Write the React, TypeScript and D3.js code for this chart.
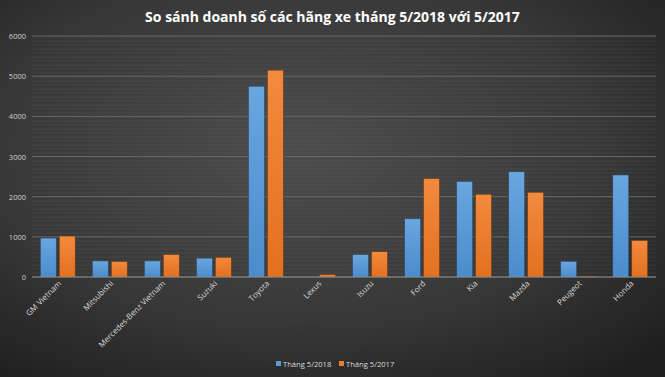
import React from "react";
import * as d3 from "d3";

const categories = ["GM Vietnam", "Mitsubishi", "Mercedes-Benz Vietnam", "Suzuki", "Toyota", "Lexus", "Isuzu", "Ford", "Kia", "Mazda", "Peugeot", "Honda"];
const series2018 = [970, 400, 400, 470, 4750, 0, 560, 1450, 2380, 2620, 390, 2540];
const series2017 = [1020, 385, 560, 490, 5150, 60, 630, 2450, 2060, 2110, 20, 910];
const yTicks = [0, 1000, 2000, 3000, 4000, 5000, 6000];
const seriesNames = ["Tháng 5/2018", "Tháng 5/2017"];

const W = 665, H = 377;
const left = 32, right = 656, top = 36, bottom = 277;

export default function App() {
  const x = d3.scaleBand<string>().domain(categories).range([left, right]).paddingInner(0.33).paddingOuter(0.16);
  const y = d3.scaleLinear().domain([0, 6000]).range([bottom, top]);
  const bw = x.bandwidth();
  const gap = 3;
  const barW = (bw - gap) / 2;
  const font = "'Open Sans', 'Liberation Sans', sans-serif";
  return (
    <svg width={W} height={H} style={{ position: "absolute", left: 0, top: 0, display: "block" }}>
      <defs>
        <radialGradient id="bg" cx="45%" cy="40%" r="75%">
          <stop offset="0%" stopColor="#4c4c4c" />
          <stop offset="60%" stopColor="#383838" />
          <stop offset="100%" stopColor="#1f1f1f" />
        </radialGradient>
        <linearGradient id="blue" x1="0" y1="0" x2="0" y2="1">
          <stop offset="0%" stopColor="#6aa6df" />
          <stop offset="100%" stopColor="#4a8ccc" />
        </linearGradient>
        <linearGradient id="orange" x1="0" y1="0" x2="0" y2="1">
          <stop offset="0%" stopColor="#f28a3e" />
          <stop offset="100%" stopColor="#e3701f" />
        </linearGradient>
        <pattern id="stripes" width="4" height="4" patternUnits="userSpaceOnUse">
          <rect width="4" height="2" fill="#ffffff" opacity="0.025" />
        </pattern>
      </defs>
      <rect width={W} height={H} fill="url(#bg)" />
      <rect x={left} y={top} width={right - left} height={bottom - top} fill="url(#stripes)" />
      <text x={W / 2} y={22} textAnchor="middle" fill="#ffffff" fontFamily={font} fontWeight="bold" fontSize={14}>
        So sánh doanh số các hãng xe tháng 5/2018 với 5/2017
      </text>
      {yTicks.map((t) => (
        <g key={t}>
          {t > 0 && <line x1={left} x2={right} y1={y(t)} y2={y(t)} stroke="#666666" strokeWidth={1} />}
          <text x={26} y={y(t) + 3} textAnchor="end" fill="#d0d0d0" fontFamily={font} fontSize={7.5}>{t}</text>
        </g>
      ))}
      {categories.map((c, i) => {
        const x0 = x(c)!;
        const v1 = series2018[i], v2 = series2017[i];
        return (
          <g key={c}>
            {v1 > 0 && <rect x={x0} y={y(v1)} width={barW} height={bottom - y(v1)} fill="url(#blue)" stroke="#2d4a66" strokeWidth={0.6} />}
            {v2 > 0 && <rect x={x0 + barW + gap} y={y(v2)} width={barW} height={bottom - y(v2)} fill="url(#orange)" stroke="#6e3a14" strokeWidth={0.6} />}
            <text transform={`translate(${x0 + bw / 2 + 4},${bottom + 7}) rotate(-45)`} textAnchor="end" fill="#d8d8d8" fontFamily={font} fontSize={8}>{c}</text>
          </g>
        );
      })}
      <line x1={left} x2={right} y1={bottom} y2={bottom} stroke="#9a9a9a" strokeWidth={1} />
      <g fontFamily={font} fontSize={7.6} fill="#d8d8d8">
        <rect x={276} y={361} width={5} height={5} fill="#5b9bd5" />
        <text x={283} y={366.5}>{seriesNames[0]}</text>
        <rect x={339} y={361} width={5} height={5} fill="#ed7d31" />
        <text x={346} y={366.5}>{seriesNames[1]}</text>
      </g>
    </svg>
  );
}
